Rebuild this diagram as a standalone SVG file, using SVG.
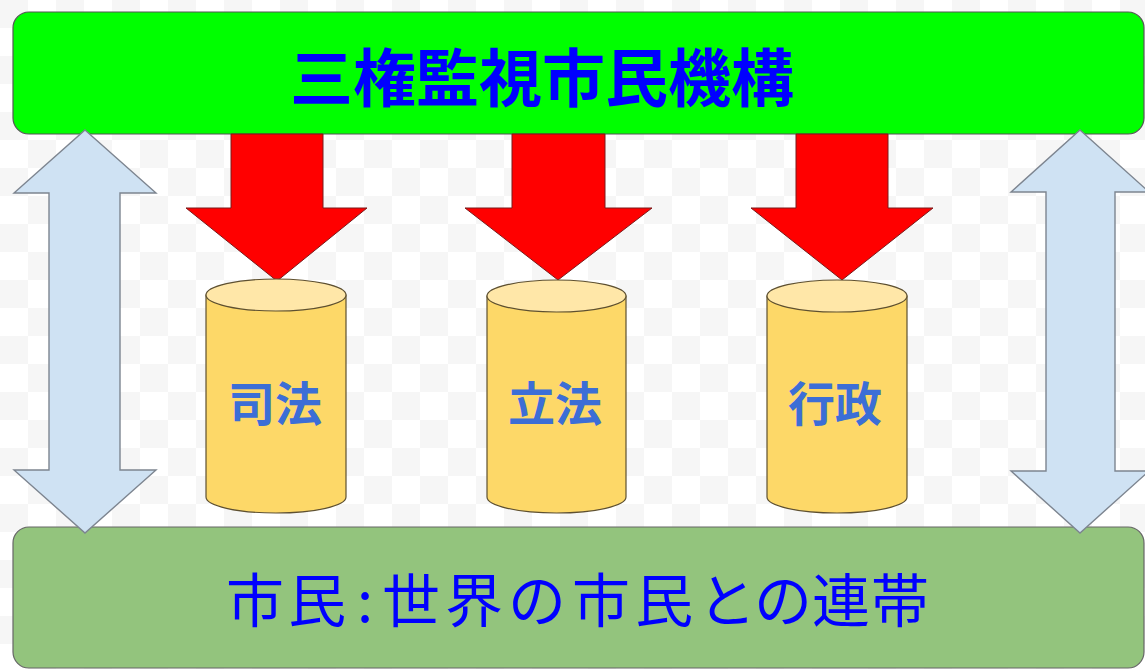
<svg xmlns="http://www.w3.org/2000/svg" width="1145" height="669" viewBox="0 0 1145 669">
  <defs>
    <pattern id="checker" x="0" y="0" width="56" height="56" patternUnits="userSpaceOnUse">
      <rect x="0" y="0" width="56" height="56" fill="#ffffff"/>
      <rect x="0" y="0" width="28" height="28" fill="#f6f6f6"/>
      <rect x="28" y="28" width="28" height="28" fill="#f6f6f6"/>
    </pattern>
  </defs>
  <style>
    .box-top { fill: #00ff00; stroke: #555555; stroke-width: 1.2; }
    .box-bottom { fill: #93c47d; stroke: #666666; stroke-width: 1.2; }
    .red-arrow { fill: #ff0000; stroke: #7a1a1a; stroke-width: 1; }
    .dbl-arrow { fill: #cfe2f3; stroke: #7d8590; stroke-width: 1.4; }
    .cyl-body { fill: #fdd868; stroke: #5e5030; stroke-width: 1.2; }
    .cyl-top { fill: #ffe7a8; stroke: #5e5030; stroke-width: 1.2; }
    .title { font-family: "Noto Sans CJK JP", "Noto Sans CJK SC", sans-serif; font-weight: bold; fill: #0000ff; }
    .cyl-label { font-family: "Noto Sans CJK JP", "Noto Sans CJK SC", sans-serif; font-weight: bold; fill: #3c6ed6; font-size: 47px; }
    .bottom-label { font-family: "Noto Sans CJK JP", "Noto Sans CJK SC", sans-serif; fill: #0000ff; font-size: 58px; }
  </style>

  <rect x="0" y="0" width="1145" height="669" fill="url(#checker)"/>

  <g id="top-box">
    <rect class="box-top" x="13" y="12" width="1131" height="122" rx="16" ry="16"/>
    <text class="title" x="542" y="73" font-size="63" text-anchor="middle" dominant-baseline="central">三権監視市民機構</text>
  </g>

  <g id="bottom-box">
    <rect class="box-bottom" x="13" y="527" width="1131" height="141" rx="16" ry="16"/>
    <text class="bottom-label" y="597" dominant-baseline="central"><tspan x="226 288">市民</tspan><tspan x="357">:</tspan><tspan x="382 445 508 572 635 698 754 812 871">世界の市民との連帯</tspan></text>
  </g>

  <g id="connectors">
    <polygon class="red-arrow" points="231,134 323,134 323,208 367,208 277,281 186,208 231,208"/>
    <polygon class="red-arrow" points="512,134 605,134 605,208 652,208 558,280 465,208 512,208"/>
    <polygon class="red-arrow" points="796,134 888,134 888,208 933,208 842,280 751,208 796,208"/>
    <polygon class="dbl-arrow" points="85,130 156,193 120,193 120,470 156,470 85,533 14,470 49,470 49,193 14,193"/>
    <polygon class="dbl-arrow" points="1080,130 1149,192 1115,192 1115,471 1149,471 1080,533 1011,471 1046,471 1046,192 1011,192"/>
  </g>

  <g id="cyl-judiciary">
    <path class="cyl-body" d="M206,295 L206,497 A70,16 0 0 0 346,497 L346,295 Z"/>
    <ellipse class="cyl-top" cx="276" cy="295" rx="70" ry="16"/>
    <text class="cyl-label" x="275" y="400" text-anchor="middle" dominant-baseline="central">司法</text>
  </g>

  <g id="cyl-legislative">
    <path class="cyl-body" d="M487,296 L487,497 A69.5,16 0 0 0 626,497 L626,296 Z"/>
    <ellipse class="cyl-top" cx="556.5" cy="296" rx="69.5" ry="16"/>
    <text class="cyl-label" x="555" y="400" text-anchor="middle" dominant-baseline="central">立法</text>
  </g>

  <g id="cyl-executive">
    <path class="cyl-body" d="M767,296 L767,497 A70,16 0 0 0 907,497 L907,296 Z"/>
    <ellipse class="cyl-top" cx="837" cy="296" rx="70" ry="16"/>
    <text class="cyl-label" x="835" y="400" text-anchor="middle" dominant-baseline="central">行政</text>
  </g>
</svg>
